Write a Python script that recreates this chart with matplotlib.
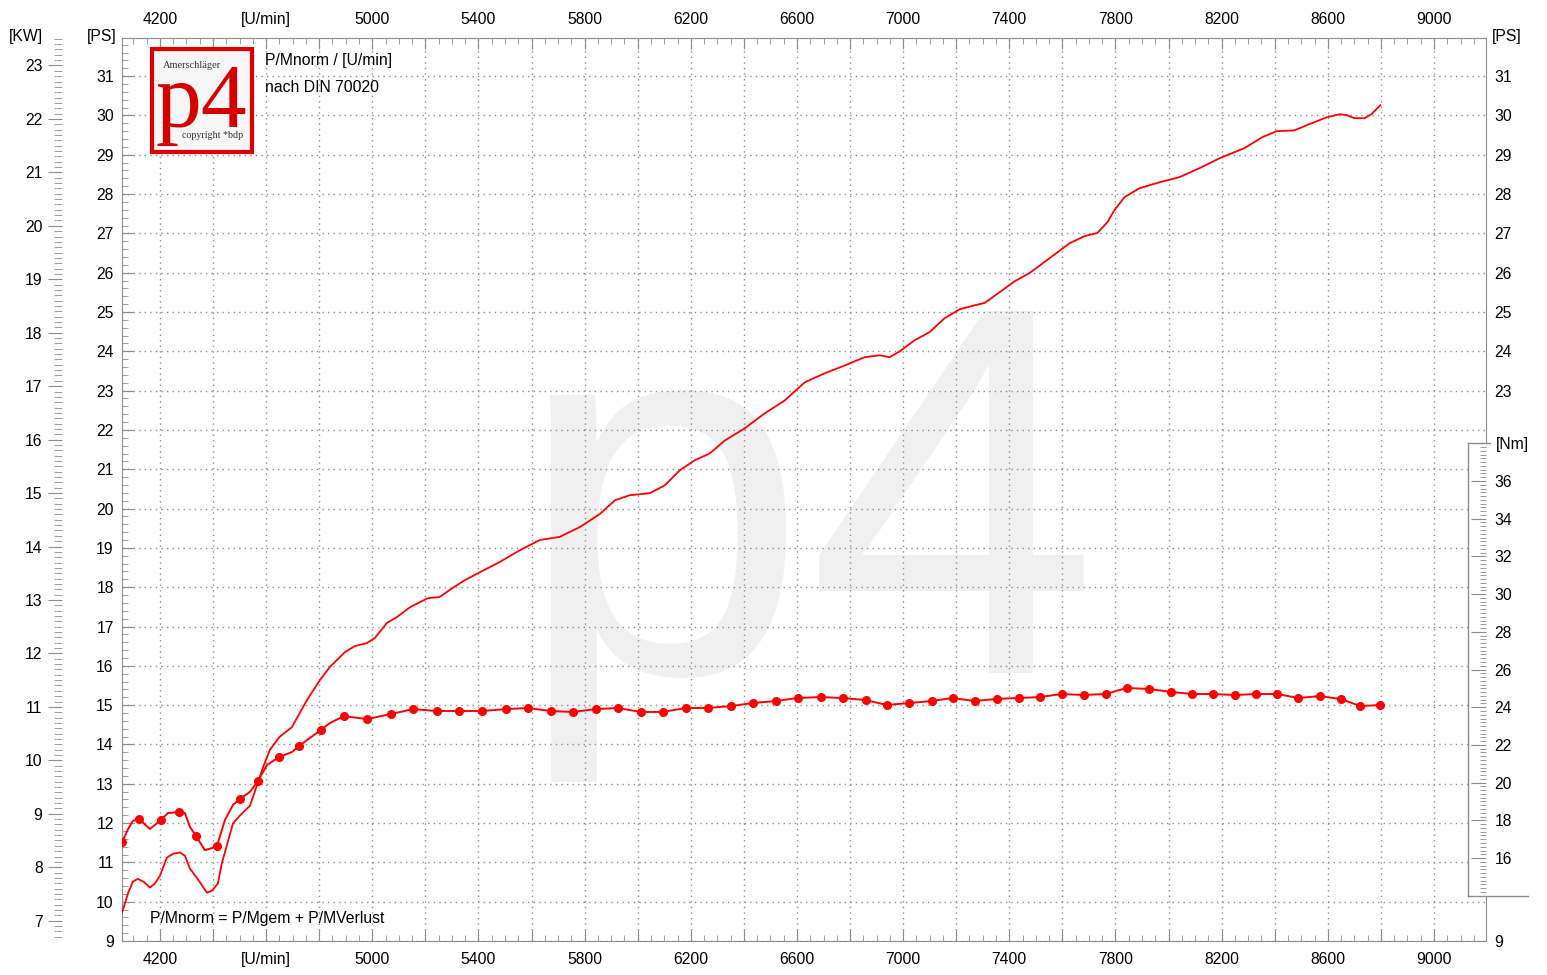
import numpy as np
import matplotlib
matplotlib.use("Agg")
import matplotlib.pyplot as plt
import matplotlib.transforms as mtransforms
from matplotlib.ticker import MultipleLocator, FixedLocator, FuncFormatter
from matplotlib.patches import Rectangle
from matplotlib.lines import Line2D

plt.rcParams['font.family'] = ['Liberation Sans', 'DejaVu Sans']

# power curve [PS] over engine speed [U/min]
power_rpm = [4057, 4080, 4098, 4117, 4140, 4162, 4181, 4200, 4226, 4250, 4275, 4294,
             4313, 4339, 4377, 4396, 4418, 4433, 4475, 4501, 4539, 4569, 4588, 4614,
             4650, 4697, 4754, 4803, 4840, 4897, 4934, 4980, 5010, 5055, 5093, 5142,
             5209, 5254, 5300, 5349, 5405, 5480, 5556, 5631, 5706, 5782, 5857, 5914,
             5970, 6045, 6102, 6158, 6215, 6271, 6328, 6403, 6478, 6554, 6629, 6704,
             6780, 6855, 6912, 6949, 6987, 7043, 7100, 7156, 7213, 7269, 7307, 7363,
             7420, 7476, 7552, 7627, 7684, 7732, 7770, 7796, 7834, 7891, 7966, 8041,
             8117, 8192, 8286, 8354, 8407, 8474, 8531, 8595, 8644, 8670, 8700, 8738,
             8764, 8798]
power_ps = [9.72, 10.22, 10.51, 10.58, 10.50, 10.36, 10.46, 10.66, 11.12, 11.22, 11.25, 11.17,
            10.84, 10.61, 10.23, 10.28, 10.46, 10.97, 11.99, 12.19, 12.44, 13.03, 13.41, 13.86,
            14.19, 14.44, 15.13, 15.64, 15.97, 16.35, 16.50, 16.58, 16.71, 17.09, 17.24, 17.49,
            17.72, 17.75, 17.97, 18.18, 18.38, 18.64, 18.94, 19.20, 19.28, 19.53, 19.86, 20.21,
            20.34, 20.39, 20.59, 20.97, 21.23, 21.40, 21.73, 22.04, 22.42, 22.75, 23.21, 23.44,
            23.64, 23.85, 23.90, 23.85, 24.00, 24.28, 24.49, 24.84, 25.07, 25.17, 25.23, 25.50,
            25.78, 25.99, 26.37, 26.75, 26.93, 27.01, 27.29, 27.59, 27.92, 28.15, 28.30, 28.43,
            28.66, 28.91, 29.17, 29.45, 29.60, 29.62, 29.78, 29.95, 30.03, 30.01, 29.93, 29.93,
            30.03, 30.26]

# torque curve [Nm]
torque_rpm = [4057, 4080, 4098, 4121, 4162, 4204, 4230, 4272, 4294, 4313, 4336, 4369,
              4396, 4415, 4445, 4475, 4501, 4539, 4569, 4603, 4648, 4697, 4723, 4806,
              4840, 4893, 4980, 5070, 5153, 5243, 5326, 5413, 5503, 5586, 5672, 5755,
              5842, 5925, 6011, 6094, 6181, 6264, 6350, 6433, 6520, 6603, 6689, 6772,
              6859, 6938, 7021, 7107, 7186, 7269, 7352, 7435, 7514, 7597, 7680, 7763,
              7842, 7925, 8011, 8090, 8169, 8249, 8331, 8410, 8489, 8569, 8648, 8723,
              8798]
torque_nm = [16.85, 17.54, 17.97, 18.07, 17.54, 18.02, 18.39, 18.44, 18.39, 17.65, 17.17, 16.42,
             16.53, 16.64, 18.02, 18.82, 19.13, 19.51, 20.08, 20.93, 21.36, 21.62, 21.94, 22.79,
             23.16, 23.53, 23.37, 23.64, 23.90, 23.80, 23.80, 23.80, 23.90, 23.96, 23.80, 23.75,
             23.90, 23.96, 23.75, 23.75, 23.96, 23.96, 24.06, 24.22, 24.33, 24.49, 24.54, 24.49,
             24.38, 24.12, 24.22, 24.33, 24.49, 24.33, 24.44, 24.49, 24.54, 24.70, 24.65, 24.70,
             25.02, 24.97, 24.81, 24.70, 24.70, 24.65, 24.70, 24.70, 24.49, 24.59, 24.44, 24.06,
             24.12]

# measured points on the torque curve
marker_rpm = [4057, 4121, 4204, 4272, 4336, 4415, 4501, 4569, 4648, 4723, 4806, 4893,
              4980, 5070, 5153, 5243, 5326, 5413, 5503, 5586, 5672, 5755, 5842, 5925,
              6011, 6094, 6181, 6264, 6350, 6433, 6520, 6603, 6689, 6772, 6859, 6938,
              7021, 7107, 7186, 7269, 7352, 7435, 7514, 7597, 7680, 7763, 7842, 7925,
              8011, 8090, 8169, 8249, 8331, 8410, 8489, 8569, 8648, 8723, 8798]
marker_nm = [16.85, 18.07, 18.02, 18.44, 17.17, 16.64, 19.13, 20.08, 21.36, 21.94, 22.79, 23.53,
             23.37, 23.64, 23.90, 23.80, 23.80, 23.80, 23.90, 23.96, 23.80, 23.75, 23.90, 23.96,
             23.75, 23.75, 23.96, 23.96, 24.06, 24.22, 24.33, 24.49, 24.54, 24.49, 24.38, 24.12,
             24.22, 24.33, 24.49, 24.33, 24.44, 24.49, 24.54, 24.70, 24.65, 24.70, 25.02, 24.97,
             24.81, 24.70, 24.70, 24.65, 24.70, 24.70, 24.49, 24.59, 24.44, 24.06, 24.12]

kw_ticks = list(range(7, 24))
ps_right_ticks = [9] + list(range(23, 32))
nm_ticks = list(range(16, 37, 2))

PS_TO_KW = 0.7355

W, H = 1547, 975
def fx(px): return px / W
def fy(py): return 1 - py / H

grey = '#8c8c8c'
red = '#ff0000'
fs = 11.3

fig = plt.figure(figsize=(W / 100, H / 100), dpi=100)
ax = fig.add_axes([fx(122), fy(941), (1486 - 122) / W, (941 - 38) / H])
ax.set_xlim(4057, 9196)
ax.set_ylim(9, 31.97)
for s in ax.spines.values():
    s.set_color(grey)

# x axis (top + bottom)
def rpm_label(v, pos):
    v = int(round(v))
    if v == 4600:
        return '[U/min]'
    if (v - 4200) % 400 == 0:
        return str(v)
    return ''

ax.xaxis.set_major_locator(MultipleLocator(200))
ax.xaxis.set_minor_locator(MultipleLocator(50))
ax.xaxis.set_major_formatter(FuncFormatter(rpm_label))
ax.tick_params(axis='x', which='both', direction='in', top=True, labeltop=True,
               color=grey, labelsize=fs, pad=8)
ax.tick_params(axis='x', which='major', length=8)
ax.tick_params(axis='x', which='minor', length=4)

# PS axis left
ax.yaxis.set_major_locator(MultipleLocator(1))
ax.yaxis.set_minor_locator(MultipleLocator(0.2))
ax.tick_params(axis='y', which='both', direction='in', left=True, right=True,
               color=grey, labelsize=fs, pad=6)
ax.tick_params(axis='y', which='major', length=8)
ax.tick_params(axis='y', which='minor', length=4)
ax.grid(True, which='major', color=grey, linestyle=(0, (1, 3)), linewidth=1)

# PS axis right: labels only above the Nm box
ps_right = ax.secondary_yaxis('right')
ps_right.yaxis.set_major_locator(FixedLocator(ps_right_ticks))
ps_right.tick_params(length=0, labelsize=fs, pad=6)
ps_right.spines['right'].set_visible(False)

# KW axis far left
kw = ax.secondary_yaxis(-60 / 1364, functions=(lambda p: p * PS_TO_KW, lambda k: k / PS_TO_KW))
kw.spines['left'].set_visible(False)
kw.yaxis.set_major_locator(FixedLocator(kw_ticks))
kw.yaxis.set_minor_locator(MultipleLocator(0.1))
kw.tick_params(which='both', direction='out', color=grey, labelsize=fs, pad=4)
kw.tick_params(which='major', length=10)
kw.tick_params(which='minor', length=6)

# watermark
ax.text(fx(807), fy(673), 'p4', transform=fig.transFigure, ha='center', va='baseline',
        fontsize=378, color='#f0f0f0', zorder=0.5)

ax.plot(power_rpm, power_ps, color=red, lw=1.3, zorder=3)

# torque axis (Nm)
ax2 = ax.twinx()
ax2.set_ylim(11.6, 59.5)
for s in ax2.spines.values():
    s.set_visible(False)
ax2.yaxis.set_major_locator(FixedLocator(nm_ticks))
ax2.yaxis.set_minor_locator(FixedLocator(np.arange(14, 38.01, 0.2)))
ax2.tick_params(axis='y', which='both', direction='in', color=grey, labelsize=fs, pad=6)
ax2.tick_params(axis='y', which='major', length=11)
ax2.tick_params(axis='y', which='minor', length=4)

box_tr = mtransforms.blended_transform_factory(ax2.transAxes, ax2.transData)
def bx(px): return (px - 122) / 1364
ax2.add_patch(Rectangle((bx(1468), 14), bx(1493) - bx(1468), 24, transform=box_tr,
                        facecolor='white', edgecolor='none', zorder=0.5, clip_on=False))
for xs, ys in [([bx(1468), bx(1468)], [14, 38]),
               ([bx(1468), bx(1490)], [38, 38]),
               ([bx(1468), bx(1528)], [14, 14])]:
    ax2.add_line(Line2D(xs, ys, transform=box_tr, color=grey, lw=1, clip_on=False))

ax2.plot(torque_rpm, torque_nm, color=red, lw=1.4, zorder=3)
ax2.plot(marker_rpm, marker_nm, 'o', color=red, ms=5.5, zorder=4)

# axis unit labels
fig.text(fx(26), fy(37), '[KW]', ha='center', va='center', fontsize=fs)
fig.text(fx(102), fy(37), '[PS]', ha='center', va='center', fontsize=fs)
fig.text(fx(1492), fy(37), '[PS]', ha='left', va='center', fontsize=fs)
fig.text(fx(1496), fy(445), '[Nm]', ha='left', va='center', fontsize=fs)

fig.text(fx(265), fy(61), 'P/Mnorm / [U/min]', ha='left', va='center', fontsize=fs, zorder=5)
fig.text(fx(265), fy(88), 'nach DIN 70020', ha='left', va='center', fontsize=fs, zorder=5)
fig.text(fx(150), fy(919), 'P/Mnorm = P/Mgem + P/MVerlust', ha='left', va='center',
         fontsize=fs, zorder=5)

# logo
fig.add_artist(Rectangle((fx(151.5), fy(151.5)), 100 / W, 102 / H, transform=fig.transFigure,
                         facecolor='#f6f6f6', edgecolor='#dd0000', lw=3, zorder=6))
fig.text(fx(192), fy(66), 'Amerschläger', ha='center', va='center', fontsize=7.5,
         family='Liberation Serif', color='#333333', zorder=7)
fig.text(fx(201), fy(127), 'p4', ha='center', va='baseline', fontsize=66,
         family='Liberation Serif', color='#d40000', zorder=7)
fig.text(fx(213), fy(135), 'copyright *bdp', ha='center', va='center', fontsize=7.2,
         family='Liberation Serif', color='#333333', zorder=7)

fig.savefig('out.png', dpi=100)
